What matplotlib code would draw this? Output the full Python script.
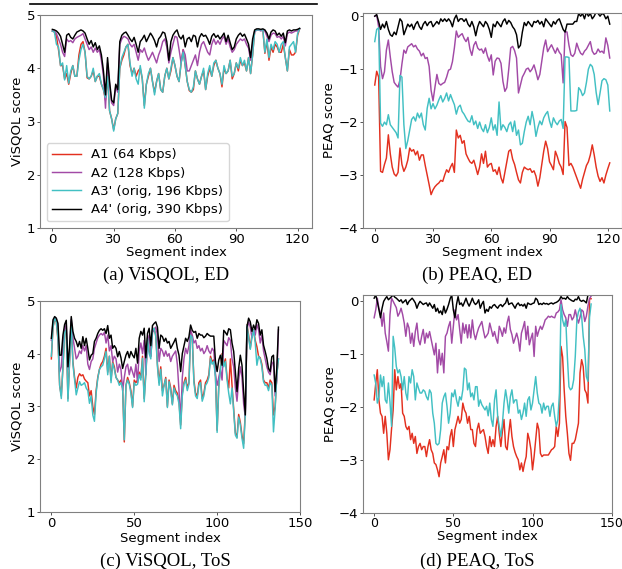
import numpy as np
import matplotlib
matplotlib.use("Agg")
import matplotlib.pyplot as plt
from matplotlib.lines import Line2D

## ViSQOL / PEAQ scores per segment, ED and ToS clips

labels = ["A1 (64 Kbps)", "A2 (128 Kbps)", "A3' (orig, 196 Kbps)", "A4' (orig, 390 Kbps)"]
colors = ["#e3301f", "#a24aa6", "#42c0c3", "#000000"]

# --- ED, ViSQOL ---
ed_visqol_a1 = [4.70,4.68,4.60,4.35,4.05,4.05,3.80,3.90,3.70,3.90,
 4.05,3.85,3.85,4.25,4.45,4.50,4.30,3.82,3.80,3.85,
 3.95,3.75,3.85,3.85,3.70,3.60,3.40,3.85,3.20,3.05,
 2.85,3.05,3.15,4.00,4.15,4.25,4.40,4.45,4.05,3.90,
 4.00,3.85,3.95,4.00,3.80,3.30,3.70,3.85,4.00,3.75,
 3.55,3.75,3.90,3.60,3.55,3.85,4.00,3.80,3.95,4.20,
 4.05,3.85,3.75,4.10,4.35,4.05,3.75,3.58,3.55,3.60,
 3.95,3.80,3.70,3.85,3.95,3.60,3.85,4.00,3.85,4.05,
 4.15,4.00,3.90,3.65,4.00,3.90,3.95,4.15,3.80,3.90,
 4.10,3.95,4.15,4.05,4.10,3.95,4.20,3.90,4.25,4.70,
 4.72,4.72,4.72,4.72,4.28,4.50,4.15,4.40,4.30,4.45,
 4.40,4.30,4.30,4.45,4.20,3.95,4.35,4.25,4.25,4.30,
 4.62,4.74]
ed_visqol_a2 = [4.70,4.70,4.65,4.55,4.45,4.30,4.22,4.55,4.50,4.52,
 4.48,4.55,4.58,4.60,4.62,4.65,4.55,4.45,4.35,4.40,
 4.30,4.38,4.30,4.35,4.15,3.85,3.25,4.10,3.70,3.35,
 3.30,3.65,3.55,4.45,4.55,4.60,4.58,4.55,4.45,4.40,
 4.45,4.30,4.15,4.35,4.30,4.38,4.25,4.15,4.22,4.30,
 4.20,4.10,4.25,4.35,4.50,4.55,4.40,4.10,4.30,4.45,
 4.60,4.58,4.35,4.10,4.35,4.25,3.95,3.95,4.05,4.15,
 4.25,4.05,4.30,4.45,4.50,4.40,4.30,4.25,4.45,4.55,
 4.45,4.52,4.45,4.55,4.60,4.45,4.55,4.40,4.30,4.35,
 4.45,4.50,4.55,4.52,4.55,4.45,4.38,4.15,4.45,4.68,
 4.72,4.72,4.70,4.72,4.70,4.60,4.50,4.62,4.66,4.65,
 4.58,4.60,4.55,4.60,4.42,4.65,4.68,4.66,4.68,4.70,
 4.70,4.74]
ed_visqol_a3 = [4.70,4.68,4.45,4.40,4.05,4.10,3.78,4.05,3.72,3.95,
 4.05,3.85,3.85,4.15,4.35,4.45,4.30,3.85,3.80,3.85,
 4.00,3.75,3.85,3.90,3.70,3.60,3.45,3.85,3.20,3.05,
 2.82,3.05,3.15,4.00,4.20,4.30,4.40,4.45,4.10,3.85,
 4.00,3.80,3.70,4.05,3.80,3.25,3.70,3.90,4.00,3.75,
 3.50,3.75,3.90,3.60,3.55,3.85,4.00,3.80,4.00,4.20,
 4.05,3.85,3.75,4.10,4.30,4.05,3.75,3.60,3.55,3.65,
 3.95,3.80,3.70,3.85,4.00,3.60,3.90,4.05,3.85,4.10,
 4.15,4.00,3.90,3.70,4.05,3.90,3.95,4.15,3.85,3.90,
 4.10,4.00,4.20,4.05,4.15,3.95,4.20,3.90,4.25,4.70,
 4.72,4.72,4.72,4.72,4.30,4.55,4.20,4.45,4.35,4.50,
 4.45,4.30,4.45,4.50,4.20,3.95,4.40,4.45,4.50,4.30,
 4.65,4.74]
ed_visqol_a4 = [4.73,4.72,4.70,4.66,4.60,4.45,4.30,4.62,4.65,4.58,
 4.55,4.62,4.68,4.70,4.72,4.70,4.66,4.55,4.45,4.52,
 4.40,4.48,4.35,4.42,4.25,3.95,3.50,4.20,3.75,3.40,
 3.35,3.70,3.60,4.50,4.62,4.66,4.68,4.62,4.55,4.50,
 4.58,4.45,4.30,4.50,4.55,4.62,4.50,4.58,4.66,4.60,
 4.52,4.40,4.55,4.60,4.68,4.66,4.50,4.15,4.50,4.62,
 4.68,4.72,4.60,4.55,4.62,4.40,4.55,4.58,4.50,4.62,
 4.60,4.40,4.58,4.65,4.60,4.62,4.55,4.45,4.60,4.65,
 4.58,4.62,4.55,4.60,4.66,4.50,4.62,4.48,4.35,4.40,
 4.55,4.62,4.66,4.60,4.64,4.55,4.45,4.20,4.55,4.72,
 4.74,4.74,4.73,4.74,4.72,4.66,4.55,4.68,4.72,4.70,
 4.62,4.66,4.60,4.66,4.48,4.70,4.72,4.70,4.72,4.72,
 4.73,4.75]

# --- ED, PEAQ ---
ed_peaq_a1 = [-1.30,-1.04,-1.15,-2.93,-2.95,-2.80,-2.68,-2.24,-2.60,-2.85,
 -2.98,-3.02,-2.95,-2.49,-2.80,-2.93,-2.85,-2.72,-2.49,-2.55,
 -2.52,-2.62,-2.55,-2.72,-2.62,-2.62,-2.82,-3.00,-3.18,-3.37,
 -3.28,-3.22,-3.18,-3.15,-3.10,-3.12,-3.00,-2.90,-2.95,-2.85,
 -2.78,-2.95,-2.15,-2.30,-2.25,-2.40,-2.35,-2.60,-2.68,-2.75,
 -2.78,-2.72,-2.85,-2.99,-2.85,-2.60,-2.78,-2.55,-2.85,-2.80,
 -2.78,-2.93,-2.90,-2.99,-2.85,-3.05,-3.15,-2.95,-2.75,-2.55,
 -2.52,-2.70,-2.80,-2.95,-3.09,-3.15,-2.95,-2.85,-2.88,-2.90,
 -2.88,-2.95,-2.92,-3.02,-3.21,-3.05,-2.80,-2.55,-2.36,-2.50,
 -2.75,-2.82,-2.90,-2.55,-2.65,-2.78,-2.85,-2.99,-1.99,-2.10,
 -2.82,-2.78,-2.85,-2.95,-3.05,-3.15,-3.25,-3.08,-2.95,-2.82,
 -2.75,-2.62,-2.43,-2.62,-2.85,-3.02,-3.12,-3.05,-3.15,-3.00,
 -2.88,-2.77]
ed_peaq_a2 = [0.00,0.02,-0.20,-0.95,-1.18,-1.05,-0.64,-0.45,-0.77,-1.05,
 -1.25,-1.30,-1.34,-1.20,-0.90,-0.64,-0.70,-0.58,-0.55,-0.52,
 -0.58,-0.55,-0.62,-0.66,-0.75,-0.70,-0.80,-0.78,-0.95,-1.40,
 -1.60,-1.34,-1.10,-1.27,-1.30,-1.27,-1.25,-1.15,-1.02,-1.00,
 -0.86,-0.60,-0.28,-0.40,-0.36,-0.33,-0.42,-0.48,-0.40,-0.62,
 -0.74,-0.55,-0.48,-0.60,-0.64,-0.62,-0.70,-0.60,-0.75,-0.85,
 -0.73,-1.11,-0.85,-0.79,-0.80,-0.89,-1.23,-1.42,-1.35,-1.00,
 -0.60,-0.57,-0.65,-0.79,-1.45,-1.30,-1.15,-1.08,-1.00,-0.98,
 -1.05,-1.00,-0.92,-1.05,-1.20,-1.10,-0.85,-0.60,-0.45,-0.67,
 -0.60,-0.54,-0.62,-0.70,-0.60,-0.68,-0.73,-1.26,-0.29,-0.30,
 -0.55,-0.73,-0.76,-0.70,-0.51,-0.62,-0.70,-0.73,-0.66,-0.62,
 -0.55,-0.48,-0.66,-0.72,-0.70,-0.62,-0.68,-0.66,-0.70,-0.41,
 -0.55,-0.79]
ed_peaq_a3 = [-0.48,-0.25,-0.22,-2.02,-2.08,-2.00,-2.05,-1.86,-2.05,-2.10,
 -2.15,-2.20,-2.30,-1.12,-1.15,-2.05,-2.50,-2.35,-2.15,-1.95,
 -1.90,-1.98,-1.83,-1.92,-1.83,-2.05,-2.15,-1.74,-1.55,-1.75,
 -1.65,-1.75,-1.68,-1.58,-1.50,-1.62,-1.55,-1.45,-1.60,-1.48,
 -1.58,-1.67,-1.85,-1.72,-1.68,-1.80,-1.85,-1.92,-1.98,-2.00,
 -1.88,-2.05,-1.98,-2.12,-2.00,-2.12,-2.18,-2.05,-2.20,-2.10,
 -1.92,-2.15,-2.05,-2.25,-1.62,-2.15,-2.05,-2.10,-2.18,-2.05,
 -2.00,-2.18,-1.98,-2.25,-2.15,-2.43,-2.40,-2.18,-2.00,-1.89,
 -2.05,-1.80,-1.98,-2.27,-2.10,-1.98,-2.05,-1.92,-1.85,-1.80,
 -1.98,-2.10,-1.92,-2.00,-2.05,-1.98,-1.95,-2.12,-0.77,-0.77,
 -0.78,-1.79,-1.79,-1.79,-1.78,-1.35,-1.40,-1.50,-1.45,-1.25,
 -1.00,-0.91,-0.95,-1.10,-1.44,-1.67,-1.45,-1.22,-1.18,-1.20,
 -1.30,-1.79]
ed_peaq_a4 = [0.00,0.03,-0.10,-0.25,-0.15,-0.22,-0.10,-0.25,-0.35,-0.38,
 -0.30,-0.35,-0.20,-0.05,-0.10,-0.35,-0.25,-0.15,-0.20,-0.15,
 -0.25,-0.15,-0.10,-0.20,-0.25,-0.15,-0.10,-0.18,-0.12,-0.10,
 -0.20,-0.15,-0.10,-0.15,-0.05,-0.10,-0.05,-0.10,-0.05,-0.10,
 -0.20,-0.05,0.02,-0.10,-0.05,-0.05,-0.10,-0.05,-0.15,-0.20,
 -0.10,-0.20,-0.37,-0.20,-0.10,-0.15,-0.20,-0.10,-0.15,-0.25,
 -0.40,-0.15,-0.20,-0.10,-0.15,-0.20,-0.10,-0.05,-0.15,-0.08,
 -0.12,-0.20,-0.25,-0.35,-0.60,-0.55,-0.30,-0.12,-0.18,-0.10,
 -0.15,-0.20,-0.10,-0.12,-0.08,-0.15,-0.10,-0.20,-0.05,-0.10,
 -0.15,-0.20,-0.10,-0.15,-0.08,-0.05,-0.15,-0.25,-0.30,-0.15,
 -0.15,-0.15,-0.15,-0.10,-0.10,0.05,0.00,0.05,-0.05,0.08,
 0.00,0.05,-0.05,0.00,0.08,0.05,0.00,0.05,0.03,-0.05,
 0.00,-0.15]

# --- ToS, ViSQOL ---
tos_visqol_a1 = [3.90,4.50,4.65,4.60,4.25,3.40,3.20,3.75,4.40,4.45,
 3.15,3.85,4.60,3.85,3.55,3.35,3.55,3.62,3.58,3.60,
 3.52,3.48,3.45,3.20,3.30,3.00,2.85,3.30,3.55,3.70,
 3.80,3.85,3.95,4.10,3.65,3.95,3.50,3.85,3.75,3.55,
 3.50,3.45,3.50,3.35,2.33,3.40,3.55,3.45,3.30,3.00,
 3.50,3.45,3.50,3.65,3.55,3.95,3.15,3.65,4.30,4.05,
 3.95,4.45,4.48,4.35,3.80,3.45,3.75,3.30,3.40,3.55,
 3.00,3.50,3.35,3.05,3.40,3.30,3.25,3.10,2.65,3.25,
 3.45,3.55,3.35,3.45,4.38,4.30,3.50,3.25,3.20,3.45,
 3.50,3.15,3.25,3.45,3.50,3.60,3.95,3.85,3.88,3.60,
 2.55,3.40,3.75,4.00,3.80,3.90,3.55,3.35,3.90,3.40,
 2.95,2.50,2.42,2.85,2.70,2.45,2.30,2.90,4.55,4.35,
 4.10,4.35,4.45,4.25,4.13,3.95,3.92,3.80,3.50,3.45,
 3.45,3.35,3.50,3.45,2.84,3.00,3.60,3.90]
tos_visqol_a2 = [4.25,4.60,4.68,4.65,4.50,3.65,3.75,4.20,4.45,4.55,
 3.70,4.05,4.65,4.30,4.10,3.90,3.95,4.05,4.00,4.15,
 4.05,4.15,3.80,3.70,3.85,3.90,4.10,4.20,4.30,4.35,
 4.38,4.35,4.40,4.20,4.35,4.05,4.15,3.85,3.95,3.90,
 3.65,3.80,3.70,3.30,3.55,3.75,3.80,3.60,3.75,3.65,
 3.55,3.80,3.45,4.05,4.20,4.00,4.25,3.60,4.20,4.35,
 3.95,4.40,4.45,4.50,4.35,3.85,4.10,4.05,3.95,4.05,
 3.95,4.00,3.85,3.95,4.00,4.05,3.80,3.30,2.75,3.55,
 3.90,4.10,4.00,4.15,4.45,4.35,4.20,4.25,4.10,4.15,
 4.05,4.10,4.00,4.05,4.15,4.05,4.00,4.10,4.05,3.60,
 3.40,3.55,3.70,3.50,4.25,4.20,4.15,4.30,4.25,3.90,
 3.75,3.35,3.10,3.50,3.75,3.55,3.05,2.80,4.45,4.60,
 4.50,4.30,4.45,4.35,4.55,4.45,4.20,4.35,4.05,3.90,
 3.75,3.65,3.60,3.80,3.85,3.20,3.50,4.45]
tos_visqol_a3 = [3.95,4.50,4.67,4.60,4.29,3.40,3.15,3.75,4.40,4.45,
 3.10,3.85,4.60,3.80,3.50,3.22,3.35,3.47,3.40,3.42,
 3.45,3.35,3.30,3.06,3.20,2.84,2.72,3.25,3.53,3.70,
 3.75,3.78,3.90,4.04,3.60,3.95,3.45,3.82,3.70,3.55,
 3.50,3.40,3.45,3.35,2.37,3.40,3.50,3.42,3.25,2.98,
 3.45,3.40,3.42,3.60,3.50,3.91,3.09,3.60,4.29,4.00,
 3.90,4.45,4.48,4.32,3.75,3.40,3.70,3.20,3.40,3.52,
 2.98,3.47,3.30,3.03,3.35,3.25,3.20,3.05,2.58,3.20,
 3.42,3.50,3.30,3.42,4.35,4.30,3.45,3.20,3.15,3.40,
 3.45,3.10,3.20,3.40,3.45,3.55,3.91,3.80,3.85,3.55,
 2.51,3.35,3.70,3.97,3.75,3.85,3.50,3.25,3.05,3.35,
 2.90,2.46,2.40,2.80,2.65,2.40,2.21,2.85,4.54,4.30,
 4.08,4.30,4.45,4.20,3.78,3.95,3.90,3.75,3.47,3.40,
 3.40,3.30,3.45,3.40,2.52,2.95,3.60,3.90]
tos_visqol_a4 = [4.29,4.64,4.70,4.67,4.57,3.97,3.97,4.35,4.55,4.63,
 3.75,4.15,4.70,4.42,4.29,4.23,4.13,4.23,4.10,4.32,
 4.15,4.29,4.10,3.88,3.97,4.00,4.23,4.29,4.38,4.44,
 4.47,4.44,4.47,4.38,4.53,4.29,4.35,4.10,4.15,4.10,
 3.94,4.04,3.92,3.72,3.85,3.97,4.04,3.92,4.04,3.97,
 3.92,4.10,3.82,4.29,4.42,4.35,4.48,3.92,4.38,4.48,
 4.15,4.53,4.57,4.60,4.50,4.10,4.35,4.32,4.23,4.29,
 4.20,4.23,4.10,4.16,4.22,4.29,4.10,3.97,3.66,4.00,
 4.15,4.29,4.23,4.32,4.54,4.44,4.40,4.42,4.29,4.38,
 4.35,4.35,4.30,4.33,4.38,4.35,4.33,4.33,4.33,3.85,
 3.66,3.88,3.97,3.78,4.44,4.40,4.35,4.47,4.45,4.20,
 4.04,3.66,3.28,3.72,3.97,3.78,3.28,2.84,4.50,4.67,
 4.60,4.42,4.54,4.45,4.64,4.57,4.35,4.45,4.16,4.04,
 3.91,3.72,3.66,3.94,3.97,3.28,3.72,4.50]

# --- ToS, PEAQ ---
tos_peaq_a1 = [-1.86,-1.55,-1.29,-1.86,-2.11,-2.17,-2.49,-2.17,-2.49,-2.99,
 -2.80,-2.40,-2.05,-1.29,-1.67,-1.42,-1.64,-1.55,-2.11,-2.17,
 -2.36,-2.42,-2.36,-2.61,-2.49,-2.68,-2.55,-2.87,-2.74,-2.68,
 -2.80,-2.74,-2.74,-2.93,-2.74,-2.61,-2.80,-2.87,-3.05,-3.08,
 -3.18,-3.31,-3.05,-2.93,-2.80,-3.05,-2.74,-2.80,-2.55,-2.42,
 -2.74,-2.42,-2.30,-2.17,-2.30,-2.23,-1.92,-2.05,-2.11,-2.30,
 -2.17,-2.42,-2.42,-2.68,-2.74,-2.42,-2.30,-2.49,-2.45,-2.42,
 -2.55,-2.74,-2.87,-2.55,-2.74,-2.61,-2.74,-2.36,-2.17,-2.49,
 -2.74,-2.45,-2.23,-2.74,-2.80,-2.49,-2.23,-2.55,-2.74,-2.85,
 -2.93,-2.99,-3.18,-3.05,-3.21,-3.05,-2.93,-2.49,-2.61,-2.80,
 -3.18,-2.93,-2.61,-2.30,-2.42,-2.87,-2.93,-2.90,-2.90,-2.90,
 -2.90,-2.85,-2.80,-2.78,-2.74,-2.36,-2.55,-2.30,-0.85,-1.05,
 -1.67,-2.17,-2.49,-2.87,-3.00,-2.68,-2.68,-2.61,-2.45,-2.30,
 -1.35,-1.10,-1.23,-1.67,-1.73,-1.92,0.05,0.05]
tos_peaq_a2 = [-0.31,-0.16,0.06,-0.13,-0.22,-0.47,-0.22,-0.60,-0.76,-0.94,
 -0.25,0.06,0.00,-0.06,-0.12,-0.28,-0.22,-0.13,-0.25,-0.41,
 -0.66,-0.41,-0.50,-0.79,-0.60,-0.85,-0.57,-0.41,-0.72,-0.82,
 -0.66,-0.53,-0.79,-0.60,-0.69,-0.57,-0.72,-0.88,-1.01,-0.79,
 -1.35,-0.91,-1.20,-0.98,-1.35,-0.66,-0.60,-0.47,-0.38,-0.79,
 -0.47,-0.16,-0.35,-0.25,-0.53,-0.79,-0.41,-0.60,-0.44,-0.69,
 -0.44,-0.69,-0.35,-0.60,-0.72,-0.60,-0.50,-0.44,-0.38,-0.55,
 -0.69,-0.65,-0.60,-0.41,-0.53,-0.66,-0.57,-0.70,-0.79,-0.47,
 -0.55,-0.66,-0.50,-0.60,-0.40,-0.28,-0.53,-0.63,-0.79,-0.70,
 -0.60,-0.72,-0.94,-0.60,-0.50,-0.38,-0.72,-0.47,-0.82,-0.70,
 -0.60,-1.04,-0.47,-0.66,-0.55,-0.47,-0.53,-0.45,-0.35,-0.32,
 -0.28,-0.30,-0.28,-0.30,-0.31,-0.22,-0.20,-0.16,0.03,-0.16,
 -0.25,-0.31,-0.47,-0.25,-0.25,-0.35,-0.30,-0.16,-0.30,-0.41,
 -0.30,-0.16,-0.19,-0.38,-0.28,-0.09,0.05,0.10]
tos_peaq_a3 = [-1.39,-1.55,-1.92,-1.80,-1.39,-1.61,-1.42,-1.86,-1.92,-1.54,
 -1.90,-2.36,-0.66,-0.88,-1.23,-1.35,-1.29,-1.42,-1.67,-1.42,
 -1.73,-1.86,-1.42,-1.54,-1.29,-1.42,-1.86,-1.54,-1.64,-1.73,
 -1.73,-1.67,-1.70,-1.80,-1.86,-1.67,-1.73,-2.11,-2.30,-2.68,
 -2.71,-2.68,-2.42,-1.92,-1.80,-1.73,-1.98,-2.30,-2.11,-1.73,
 -1.80,-1.67,-1.86,-1.98,-1.80,-1.86,-1.67,-1.26,-1.29,-1.67,
 -1.54,-1.80,-1.73,-1.86,-1.61,-1.61,-1.98,-1.86,-1.95,-2.00,
 -2.05,-1.98,-2.16,-1.92,-2.23,-2.36,-1.86,-1.67,-2.17,-2.36,
 -2.55,-2.30,-1.92,-1.67,-1.86,-2.11,-1.80,-1.67,-1.92,-1.86,
 -1.86,-2.11,-2.05,-2.23,-2.11,-1.92,-2.17,-1.86,-1.80,-2.05,
 -1.92,-1.67,-1.42,-1.73,-1.92,-1.95,-2.11,-1.92,-2.05,-1.98,
 -1.98,-2.17,-1.98,-1.92,-2.17,-2.36,-2.23,-1.73,-0.06,-0.35,
 -0.47,-0.35,-1.04,-1.61,-1.67,-1.64,-1.48,-1.04,-0.35,-0.20,
 -0.13,-0.28,-0.66,-0.91,-1.42,-1.51,-0.30,-0.05]
tos_peaq_a4 = [0.06,0.12,0.00,-0.16,-0.31,-0.13,0.00,0.05,0.09,0.03,
 0.06,0.09,0.12,0.08,0.06,0.03,0.00,0.03,-0.03,0.00,
 0.03,-0.06,0.00,0.03,0.06,0.02,-0.03,-0.13,-0.05,0.00,
 -0.03,-0.06,-0.04,-0.03,-0.09,-0.03,-0.08,-0.13,-0.06,-0.19,
 -0.13,-0.22,-0.18,-0.25,-0.09,-0.22,-0.15,-0.06,0.05,0.12,
 -0.16,-0.31,-0.06,0.09,-0.06,-0.03,-0.09,-0.02,0.06,-0.03,
 -0.09,-0.02,0.06,-0.02,-0.06,-0.03,0.03,-0.13,-0.05,0.00,
 -0.22,-0.15,-0.19,-0.10,-0.13,-0.08,-0.06,-0.10,-0.13,-0.08,
 -0.06,-0.10,-0.06,-0.03,0.06,-0.06,-0.04,-0.03,-0.08,-0.13,
 -0.06,-0.03,-0.08,-0.06,-0.09,-0.05,-0.13,-0.03,-0.05,-0.06,
 -0.04,-0.03,0.06,0.03,-0.06,-0.04,-0.06,-0.03,-0.05,-0.04,
 -0.06,-0.04,-0.03,-0.05,-0.03,-0.02,0.00,0.03,0.09,0.05,
 0.06,0.04,0.09,0.05,0.03,0.01,0.00,0.04,0.03,0.09,
 0.02,0.00,0.02,0.00,-0.03,0.12,0.12,0.12]

ed_visqol = [ed_visqol_a1, ed_visqol_a2, ed_visqol_a3, ed_visqol_a4]
ed_peaq = [ed_peaq_a1, ed_peaq_a2, ed_peaq_a3, ed_peaq_a4]
tos_visqol = [tos_visqol_a1, tos_visqol_a2, tos_visqol_a3, tos_visqol_a4]
tos_peaq = [tos_peaq_a1, tos_peaq_a2, tos_peaq_a3, tos_peaq_a4]

W, H = 622, 569
fig = plt.figure(figsize=(W / 100, H / 100), dpi=100)


def axes_px(left, top, right, bottom):
    # place an axes by pixel box (origin at top-left of the picture)
    return fig.add_axes([left / W, 1 - bottom / H, (right - left) / W, (bottom - top) / H])


def panel(ax, series, ylabel, ylim, xticks, caption, cap_xy, lab_pad=0):
    for vals, c, lab in zip(series, colors, labels):
        ax.plot(np.arange(len(vals)), vals, color=c, lw=1.05, label=lab)
    ax.set_ylim(*ylim)
    ax.set_xticks(xticks)
    ax.set_xlabel("Segment index", fontsize=9.5, labelpad=lab_pad)
    ax.set_ylabel(ylabel, fontsize=9.5, labelpad=2)
    ax.tick_params(labelsize=9.5, length=2.5, width=0.7, pad=1, color="#555555")
    for s in ax.spines.values():
        s.set_color("#808080")
        s.set_linewidth(0.8)
    fig.text(cap_xy[0] / W, 1 - cap_xy[1] / H, caption, ha="center", va="center",
             fontsize=13.5, family="Liberation Serif")


ax_a = axes_px(40, 15, 312, 228)
panel(ax_a, ed_visqol, "ViSQOL score", (1, 5), [0, 30, 60, 90, 120],
      "(a) ViSQOL, ED", (166, 275))
ax_a.set_yticks([1, 2, 3, 4, 5])
ax_a.legend(loc="lower left", fontsize=9.5, frameon=True, handlelength=2.2,
            borderpad=0.4, labelspacing=0.4, borderaxespad=0.5, fancybox=True)

ax_b = axes_px(363, 13, 621.5, 228)
panel(ax_b, ed_peaq, "PEAQ score", (-4, 0.06), [0, 30, 60, 90, 120],
      "(b) PEAQ, ED", (477, 275))
ax_b.set_yticks([-4, -3, -2, -1, 0])

ax_c = axes_px(40, 300.7, 300, 512.3)
panel(ax_c, tos_visqol, "ViSQOL score", (1, 5), [0, 50, 100, 150],
      "(c) ViSQOL, ToS", (165, 561), lab_pad=1.5)
ax_c.set_yticks([1, 2, 3, 4, 5])
ax_c.set_xlim(-6.85, 150)

ax_d = axes_px(363.3, 295, 611.7, 513.3)
panel(ax_d, tos_peaq, "PEAQ score", (-4, 0.12), [0, 50, 100, 150],
      "(d) PEAQ, ToS", (477, 561), lab_pad=0)
ax_d.set_yticks([-4, -3, -2, -1, 0])
ax_d.set_xlim(-6.85, 150)
ax_d.tick_params(axis="x", pad=0, labelsize=9)

# cut-off rule of the table above the figure
fig.add_artist(Line2D([30 / W, 317 / W], [1 - 4 / H, 1 - 4 / H], color="black", lw=1.2))

fig.savefig("out.png", dpi=100)
